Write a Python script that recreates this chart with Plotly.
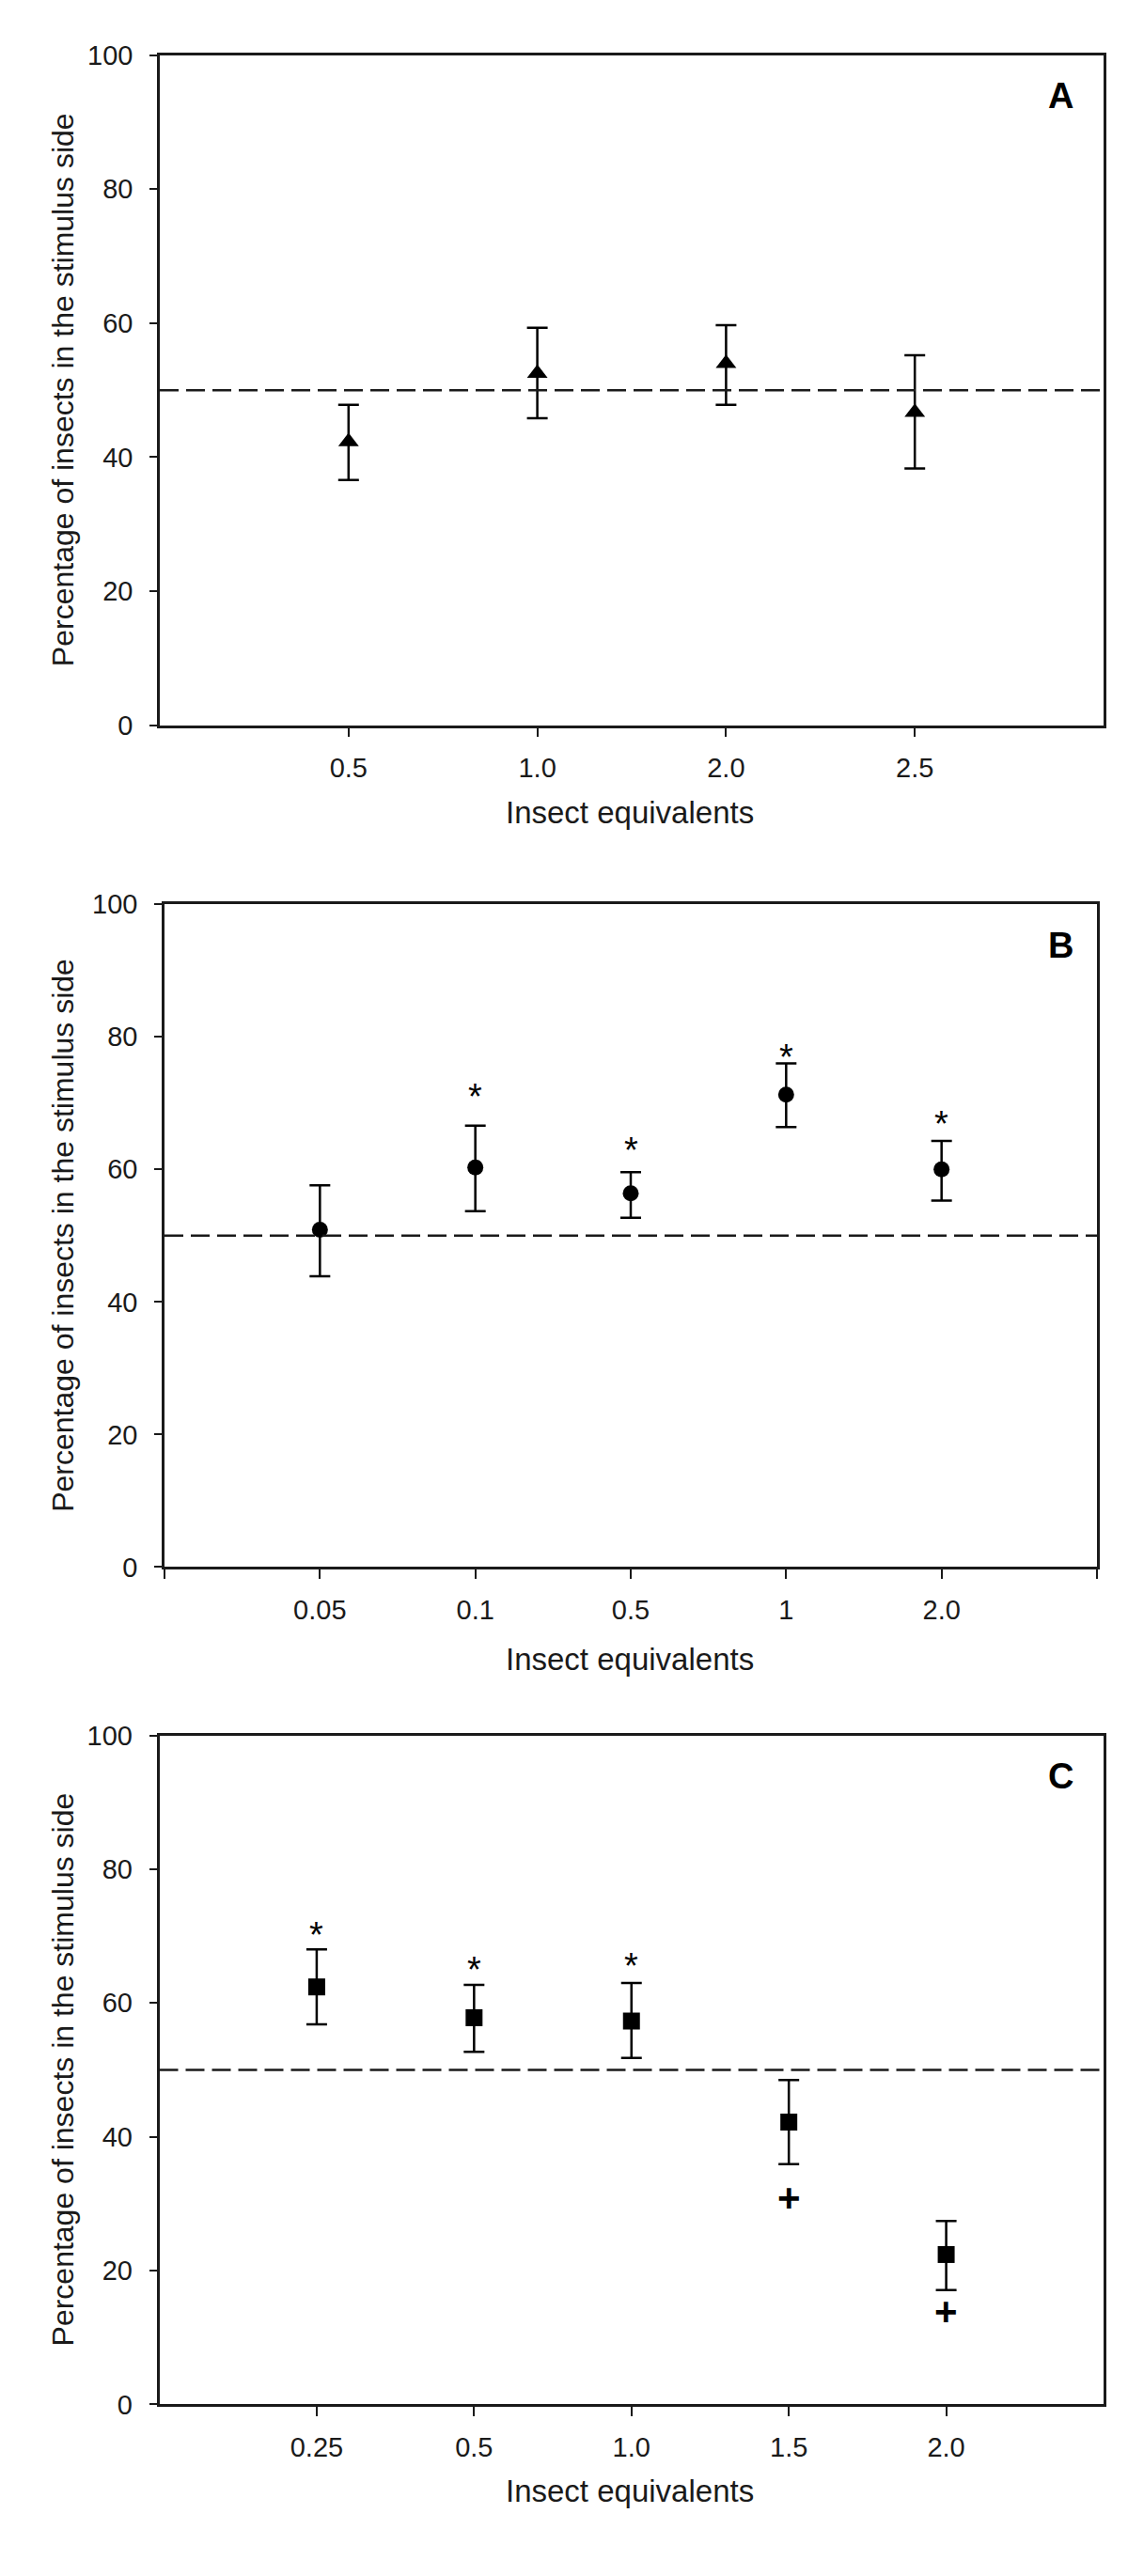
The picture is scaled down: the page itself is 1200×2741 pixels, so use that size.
import plotly.graph_objects as go

# page is 1200x2741; the HTML body adds an 8px margin around the figure
PAGE_W, PAGE_H = 1200, 2741
BODY = 8
W, H = PAGE_W - 2 * BODY, PAGE_H - 2 * BODY

# ---------------- data ----------------
# Panel A
a_labels = ["0.5", "1.0", "2.0", "2.5"]
a_mean = [42.3, 52.5, 54.0, 46.7]
a_upper = [47.8, 59.3, 59.7, 55.2]
a_lower = [36.6, 45.8, 47.8, 38.3]

# Panel B
b_labels = ["0.05", "0.1", "0.5", "1", "2.0"]
b_mean = [50.9, 60.3, 56.4, 71.3, 60.0]
b_upper = [57.6, 66.6, 59.6, 76.0, 64.3]
b_lower = [43.9, 53.7, 52.7, 66.4, 55.3]
b_star = [None, 72.2, 64.2, 78.2, 68.1]

# Panel C
c_labels = ["0.25", "0.5", "1.0", "1.5", "2.0"]
c_mean = [62.4, 57.8, 57.3, 42.2, 22.4]
c_upper = [68.0, 62.7, 63.0, 48.5, 27.4]
c_lower = [56.8, 52.7, 51.8, 35.9, 17.1]
c_star = [71.4, 66.2, 66.8, None, None]
c_plus = [None, None, None, 31.2, 14.2]

y_tick_vals = [0, 20, 40, 60, 80, 100]
reference_level = 50
panel_letters = ["A", "B", "C"]
x_title = "Insect equivalents"
y_title = "Percentage of insects in the stimulus side"

# ---------------- layout geometry (page pixels) ----------------
FONT = "Liberation Sans, Arial, Helvetica, sans-serif"
INK = "#1a1a1a"

panels = [
    dict(labels=a_labels, mean=a_mean, upper=a_upper, lower=a_lower,
         star=None, plus=None, symbol="triangle-up", msize=19,
         x0=170, x1=1174, y0=43, y1=764.6, xtitle_y=858, end_ticks=False),
    dict(labels=b_labels, mean=b_mean, upper=b_upper, lower=b_lower,
         star=b_star, plus=None, symbol="circle", msize=17,
         x0=175, x1=1167, y0=957.4, y1=1671, xtitle_y=1770, end_ticks=True),
    dict(labels=c_labels, mean=c_mean, upper=c_upper, lower=c_lower,
         star=c_star, plus=c_plus, symbol="square", msize=18,
         x0=169.5, x1=1174, y0=1852.2, y1=2572.5, xtitle_y=2666, end_ticks=False),
]

def fx(px):
    return (px - BODY) / W

def fy(py):
    return 1 - (py - BODY) / H

fig = go.Figure()
annotations = []
shapes = []
layout_axes = {}

for i, p in enumerate(panels):
    n = i + 1
    xa = "xaxis" if n == 1 else f"xaxis{n}"
    ya = "yaxis" if n == 1 else f"yaxis{n}"
    xr = "x" if n == 1 else f"x{n}"
    yr = "y" if n == 1 else f"y{n}"

    pos = list(range(1, len(p["labels"]) + 1))
    err_plus = [u - m for u, m in zip(p["upper"], p["mean"])]
    err_minus = [m - l for m, l in zip(p["mean"], p["lower"])]

    fig.add_trace(go.Scatter(
        x=pos, y=p["mean"], mode="markers", xaxis=xr, yaxis=yr,
        marker=dict(symbol=p["symbol"], size=p["msize"], color="black",
                    line=dict(width=0)),
        error_y=dict(type="data", symmetric=False, array=err_plus,
                     arrayminus=err_minus, color="black", thickness=2.5,
                     width=11),
        showlegend=False, hoverinfo="skip",
    ))

    if p["star"]:
        for xv, sv in zip(pos, p["star"]):
            if sv is not None:
                annotations.append(dict(
                    x=xv, y=sv, xref=xr, yref=yr, text="*", showarrow=False,
                    font=dict(family=FONT, size=38, color="black"),
                    yshift=-9, xanchor="center", yanchor="middle"))
    if p["plus"]:
        for xv, pv in zip(pos, p["plus"]):
            if pv is not None:
                annotations.append(dict(
                    x=xv, y=pv, xref=xr, yref=yr, text="<b>+</b>", showarrow=False,
                    font=dict(family=FONT, size=42, color="black"),
                    yshift=-2, xanchor="center", yanchor="middle"))

    shapes.append(dict(
        type="line", xref=f"{xr} domain", yref=yr, x0=0, x1=1,
        y0=reference_level, y1=reference_level,
        line=dict(color=INK, width=2.5, dash="20px,8px")))

    nmax = len(p["labels"]) + 1
    if p["end_ticks"]:
        tickvals = [0] + pos + [nmax]
        ticktext = [""] + p["labels"] + [""]
    else:
        tickvals = pos
        ticktext = p["labels"]

    layout_axes[xa] = dict(
        domain=[fx(p["x0"]), fx(p["x1"])], anchor=yr, range=[0, nmax],
        tickmode="array", tickvals=tickvals, ticktext=ticktext,
        ticks="outside", ticklen=10, tickwidth=2, tickcolor=INK,
        showline=True, linewidth=2.5, linecolor=INK, mirror=True,
        showgrid=False, zeroline=False, ticklabelstandoff=8,
        tickfont=dict(family=FONT, size=29, color=INK), fixedrange=True)
    layout_axes[ya] = dict(
        domain=[fy(p["y1"]), fy(p["y0"])], anchor=xr, range=[0, 100],
        tickmode="array", tickvals=y_tick_vals,
        ticks="outside", ticklen=8, tickwidth=2, tickcolor=INK,
        showline=True, linewidth=2.5, linecolor=INK, mirror=True,
        showgrid=False, zeroline=False, ticklabelstandoff=12,
        tickfont=dict(family=FONT, size=29, color=INK), fixedrange=True)

    # axis titles
    annotations.append(dict(
        x=fx(67), y=fy((p["y0"] + p["y1"]) / 2), xref="paper", yref="paper",
        text=y_title, textangle=-90, showarrow=False,
        xanchor="center", yanchor="middle",
        font=dict(family=FONT, size=32, color=INK)))
    annotations.append(dict(
        x=fx(670), y=fy(p["xtitle_y"]), xref="paper", yref="paper",
        text=x_title, showarrow=False, xanchor="center", yanchor="middle",
        font=dict(family=FONT, size=33, color=INK)))
    # panel letter
    annotations.append(dict(
        x=fx(1128), y=fy(p["y0"] + 44), xref="paper", yref="paper",
        text=f"<b>{panel_letters[i]}</b>", showarrow=False,
        xanchor="center", yanchor="middle",
        font=dict(family=FONT, size=38, color="black")))

fig.update_layout(
    width=W, height=H,
    margin=dict(l=0, r=0, t=0, b=0),
    paper_bgcolor="white", plot_bgcolor="white",
    showlegend=False,
    annotations=annotations, shapes=shapes,
    **layout_axes,
)

fig.write_html("out.html")
